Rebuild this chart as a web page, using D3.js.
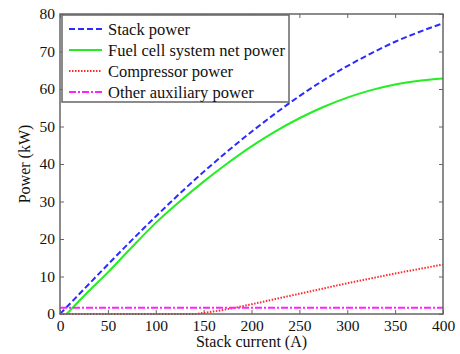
<!DOCTYPE html>
<html>
<head>
<meta charset="utf-8">
<script src="https://cdn.jsdelivr.net/npm/d3@7"></script>
<style>
  body { margin: 0; background: #fff; }
  svg text { font-family: "Liberation Serif", "Times New Roman", serif; fill: #111; }
</style>
</head>
<body>
<div id="chart"></div>
<script>
// values
var stack_current = [0, 25, 50, 75, 100, 125, 150, 175, 200, 225, 250, 275, 300, 325, 350, 375, 400];
var stack_power   = [0, 6.6, 13.2, 19.7, 26.0, 32.1, 37.9, 43.4, 48.6, 53.5, 58.1, 62.3, 66.1, 69.5, 72.6, 75.2, 77.5];

var net_current = [7, 25, 50, 75, 100, 125, 150, 175, 200, 225, 250, 275, 300, 325, 350, 375, 400];
var net_power   = [0, 4.8, 11.1, 17.8, 24.3, 30.0, 35.3, 40.2, 44.7, 48.7, 52.2, 55.2, 57.7, 59.7, 61.2, 62.2, 62.8];

var comp_current = [0, 140, 150, 175, 200, 225, 250, 275, 300, 325, 350, 375, 400];
var comp_power   = [0, 0, 0.3, 1.3, 2.6, 4.0, 5.4, 6.8, 8.2, 9.5, 10.8, 12.0, 13.2];

var aux_current = [0, 400];
var aux_power   = [1.7, 1.7];

var x_ticks = [0, 50, 100, 150, 200, 250, 300, 350, 400];
var y_ticks = [0, 10, 20, 30, 40, 50, 60, 70, 80];

var legend_labels = ["Stack power", "Fuel cell system net power", "Compressor power", "Other auxiliary power"];

var WIDTH = 460, HEIGHT = 354,
    margin = {left: 60, right: 17, top: 14, bottom: 40},
    FONT = "'Liberation Serif', 'Times New Roman', serif",
    AXIS_COLOR = "#666";

var svg = d3.select("#chart").append("svg")
    .attr("width", WIDTH)
    .attr("height", HEIGHT);

var x = d3.scaleLinear().domain([0, 400]).range([margin.left, WIDTH - margin.right]);
var y = d3.scaleLinear().domain([0, 80]).range([HEIGHT - margin.bottom, margin.top]);

function zip(xs, ys){
    return xs.map(function(d, i){ return [d, ys[i]]; });
}

var series = [
    {name: legend_labels[0], data: zip(stack_current, stack_power), color: "#2b2bff", dash: "6,3", width: 2},
    {name: legend_labels[1], data: zip(net_current, net_power), color: "#22ee22", dash: null, width: 2},
    {name: legend_labels[2], data: zip(comp_current, comp_power), color: "#ff2a2a", dash: "1.5,1.5", width: 2},
    {name: legend_labels[3], data: zip(aux_current, aux_power), color: "#ff22ff", dash: "7,2,2,2", width: 2}
];

// axes with inward ticks on all four sides
var axes = [
    {axis: d3.axisBottom(x).tickValues(x_ticks), tr: "translate(0," + y(0) + ")", pad: 6},
    {axis: d3.axisTop(x).tickValues(x_ticks).tickFormat(""), tr: "translate(0," + y(80) + ")", pad: 6},
    {axis: d3.axisLeft(y).tickValues(y_ticks), tr: "translate(" + x(0) + ",0)", pad: 5},
    {axis: d3.axisRight(y).tickValues(y_ticks).tickFormat(""), tr: "translate(" + x(400) + ",0)", pad: 5}
];

axes.forEach(function(a){
    var g = svg.append("g")
        .attr("transform", a.tr)
        .call(a.axis.tickSizeInner(-4).tickSizeOuter(0).tickPadding(a.pad));
    g.select(".domain").remove();
    g.selectAll("line").attr("stroke", AXIS_COLOR);
    g.selectAll("text")
        .style("font-family", FONT)
        .style("font-size", "15.5px")
        .style("fill", "#111");
});

// line paths
var line = d3.line()
    .x(function(d){ return x(d[0]); })
    .y(function(d){ return y(d[1]); })
    .curve(d3.curveMonotoneX);

svg.append("g").selectAll("path")
    .data(series).enter().append("path")
    .attr("d", function(d){ return line(d.data); })
    .attr("fill", "none")
    .attr("stroke", function(d){ return d.color; })
    .attr("stroke-width", function(d){ return d.width; })
    .attr("stroke-dasharray", function(d){ return d.dash; });

// frame
svg.append("rect")
    .attr("x", x(0)).attr("y", y(80))
    .attr("width", x(400) - x(0)).attr("height", y(0) - y(80))
    .attr("fill", "none")
    .attr("stroke", AXIS_COLOR)
    .attr("stroke-width", 1.5);

// legend
var legend = svg.append("g").attr("transform", "translate(62,15)");
legend.append("rect")
    .attr("width", 227).attr("height", 87)
    .attr("fill", "#fff")
    .attr("stroke", AXIS_COLOR)
    .attr("stroke-width", 1.5);

var items = legend.selectAll("g.item")
    .data(series).enter().append("g")
    .attr("class", "item")
    .attr("transform", function(d, i){ return "translate(0," + (14 + i * 21) + ")"; });

items.append("line")
    .attr("x1", 7).attr("x2", 40)
    .attr("stroke", function(d){ return d.color; })
    .attr("stroke-width", function(d){ return d.width; })
    .attr("stroke-dasharray", function(d){ return d.dash; });

items.append("text")
    .attr("x", 46).attr("y", 5.5)
    .style("font-family", FONT)
    .style("font-size", "16.5px")
    .text(function(d){ return d.name; });

// axis labels
svg.append("text")
    .attr("x", (x(0) + x(400)) / 2).attr("y", 347)
    .attr("text-anchor", "middle")
    .style("font-family", FONT)
    .style("font-size", "16px")
    .text("Stack current (A)");

svg.append("text")
    .attr("transform", "translate(30," + ((y(0) + y(80)) / 2) + ")rotate(-90)")
    .attr("text-anchor", "middle")
    .style("font-family", FONT)
    .style("font-size", "16px")
    .text("Power (kW)");
</script>
</body>
</html>
